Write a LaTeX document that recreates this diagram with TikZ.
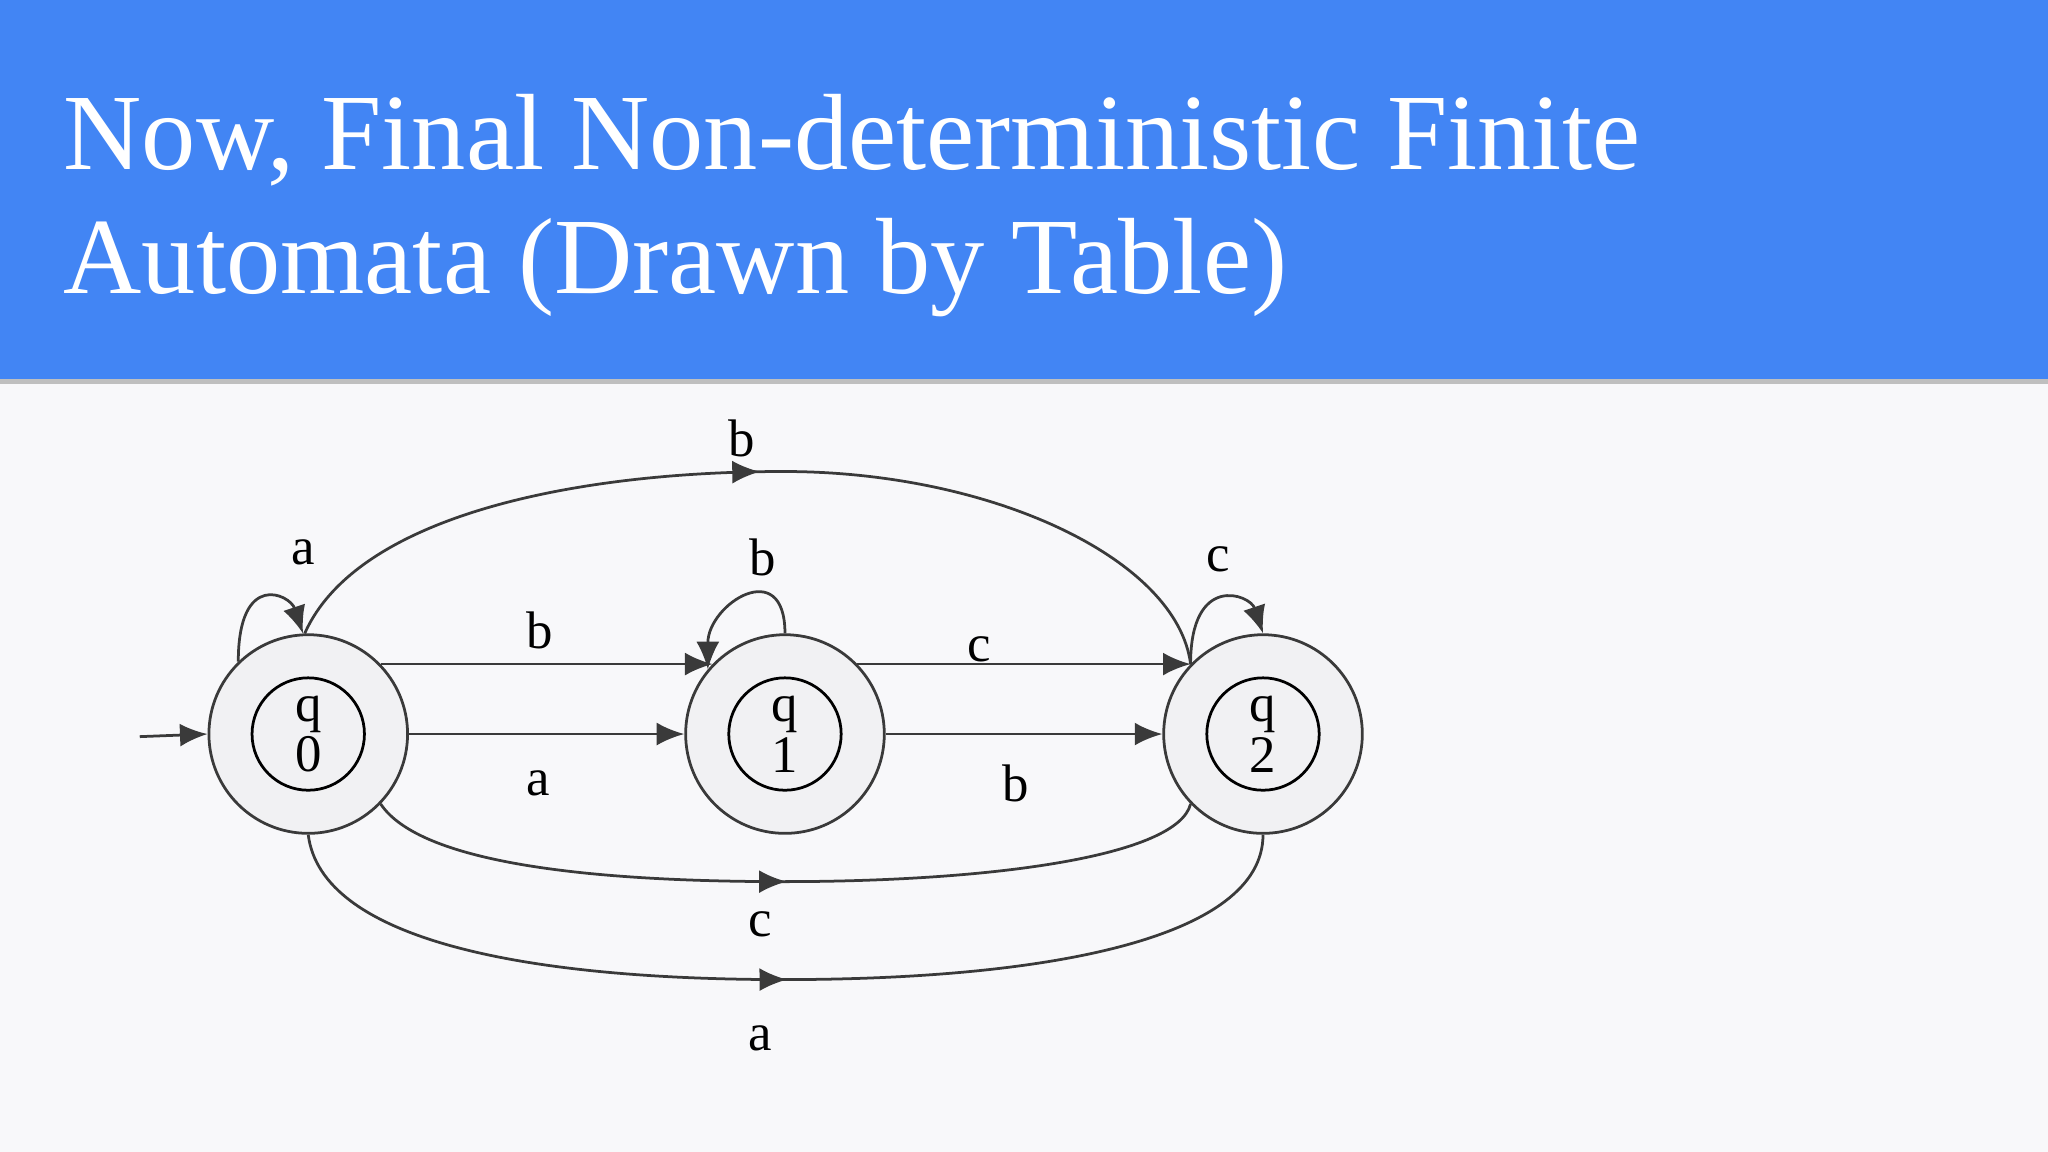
\documentclass[tikz,border=0pt]{standalone}
\usepackage{fontspec}
\setmainfont{Liberation Serif}
\usetikzlibrary{arrows.meta,decorations.markings}
\definecolor{hdr}{HTML}{4285F4}
\definecolor{bg}{HTML}{F8F8FA}
\definecolor{ln}{HTML}{3A3A3A}
\definecolor{st}{HTML}{F1F1F3}
\begin{document}
\begin{tikzpicture}[x=0.01cm,y=-0.01cm,
  edge/.style={draw=ln,line width=0.6pt},
  arr/.style={edge,-{Latex[length=6pt,width=5pt]}},
  midarr/.style={edge,postaction={decorate},decoration={markings,mark=at position 0.5 with {\arrow{Latex[length=6pt,width=5pt]}}}},
  outerst/.style={circle,draw=ln,line width=0.6pt,fill=st,minimum size=152\pgflinewidth,inner sep=0pt},
  innerst/.style={circle,draw=black,line width=0.6pt,minimum size=0.86cm,inner sep=0pt,align=center,font=\fontsize{11.5}{11}\selectfont},
  lbl/.style={font=\fontsize{11.5}{12}\selectfont}]
\useasboundingbox (0,0) rectangle (1568,882);
\fill[bg] (0,0) rectangle (1568,882);
\fill[black!25] (0,288) rectangle (1568,294);
\fill[hdr] (0,0) rectangle (1568,290);
\node[anchor=base west,text=white,font=\fontsize{23.6}{27}\selectfont,inner sep=0pt] (t1) at (48,130) {Now, Final Non-deterministic Finite};
\node[anchor=base west,text=white,font=\fontsize{23.6}{27}\selectfont,inner sep=0pt] (t2) at (48,225) {Automata (Drawn by Table)};

\node[circle,draw=ln,line width=0.6pt,fill=st,minimum size=1.52cm,inner sep=0pt] (q0) at (236,562) {};
\node[circle,draw=ln,line width=0.6pt,fill=st,minimum size=1.52cm,inner sep=0pt] (q1) at (601,562) {};
\node[circle,draw=ln,line width=0.6pt,fill=st,minimum size=1.52cm,inner sep=0pt] (q2) at (967,562) {};
\node[innerst] (i0) at (q0) {q\\0};
\node[innerst] (i1) at (q1) {q\\1};
\node[innerst] (i2) at (q2) {q\\2};

\coordinate (s) at (107,564);
\draw[arr] (s) -- (q0.west);
\draw[arr] (q0.44) -- (q1.136);
\draw[arr] (q0.east) -- (q1.west);
\draw[arr] (q1.44) -- (q2.136);
\draw[arr] (q1.east) -- (q2.west);

\draw[midarr] (q0.92) .. controls +(40,-90) and +(-160,0) .. (600,361) .. controls +(160,0) and +(-10,-80) .. (q2.136);
\draw[midarr] (q0.-44) .. controls +(30,45) and +(-150,0) .. (600,675) .. controls +(160,0) and +(-10,40) .. (q2.-136);
\draw[midarr] (q0.-90) .. controls +(10,80) and +(-200,0) .. (600,750) .. controls +(200,0) and +(0,80) .. (q2.-90);

\draw[arr] (q0.134) .. controls +(0,-70) and +(-10,-30) .. (q0.93);
\draw[arr] (q1.90) .. controls +(0,-60) and +(0,-50) .. (q1.140);
\draw[arr] (q2.136) .. controls +(0,-70) and +(-10,-30) .. (q2.90);

\node[lbl] (l1) at (568,336) {b};
\node[lbl] (l2) at (232,423) {a};
\node[lbl] (l3) at (584,427) {b};
\node[lbl] (l4) at (933,428) {c};
\node[lbl] (l5) at (413,483) {b};
\node[lbl] (l6) at (750,497) {c};
\node[lbl] (l7) at (412,600) {a};
\node[lbl] (l8) at (778,600) {b};
\node[lbl] (l9) at (582,708) {c};
\node[lbl] (l10) at (582,795) {a};
\end{tikzpicture}
\end{document}
